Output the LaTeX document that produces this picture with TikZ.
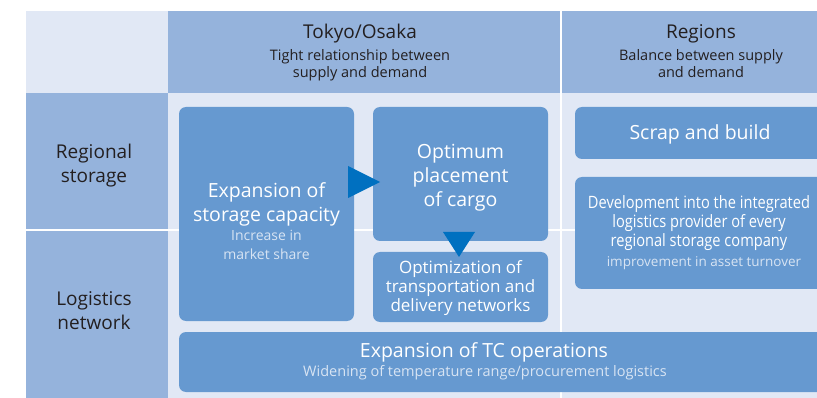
\documentclass[tikz,border=0pt]{standalone}
\usepackage{fontspec}
\setmainfont{Open Sans}
\newfontfamily\narrowfont[FakeStretch=0.86]{Open Sans}
\definecolor{headblue}{HTML}{95B3DC}
\definecolor{paleblue}{HTML}{E1E8F5}
\definecolor{boxblue}{HTML}{6699D0}
\definecolor{arrowblue}{HTML}{0070C0}
\definecolor{inktext}{HTML}{231F20}
\definecolor{softwhite}{HTML}{D8E4F3}

% multi-line text nodes sit on the baseline of their last line
\tikzset{
  panel/.style={fill=boxblue, draw=none, rounded corners=7pt, inner sep=0pt},
  headtitle/.style={anchor=base, text=inktext, inner sep=0pt, font=\fontsize{19}{24}\selectfont},
  headsub/.style={anchor=base, text=inktext, inner sep=0pt, align=center, font=\fontsize{14.5}{17.5}\selectfont},
  rowlabel/.style={anchor=base, text=inktext, inner sep=0pt, align=center, font=\fontsize{19}{24.5}\selectfont},
  boxtitle/.style={anchor=base, text=white, inner sep=0pt, align=center, font=\fontsize{19.5}{24}\selectfont},
  boxsub/.style={anchor=base, text=softwhite, inner sep=0pt, align=center, font=\fontsize{14}{19}\selectfont},
  pointer/.style={fill=arrowblue, draw=none}
}

\begin{document}
\begin{tikzpicture}[x=1pt, y=-1pt]
\useasboundingbox (0,0) rectangle (817,398);
\clip (0,0) rectangle (817,398);

% table background cells
\fill[paleblue] (26,11) rectangle (168,93);
\fill[headblue] (168,11) rectangle (817,93);
\fill[headblue] (26,93) rectangle (168,398);
\fill[paleblue] (168,93) rectangle (817,398);
% white grid lines
\fill[white] (560,11) rectangle (562,398);
\fill[white] (26,229) rectangle (817,231);

% column headers
\node[headtitle] (tokyo) at (360,39) {Tokyo/Osaka};
\node[headsub] (tokyosub) at (360,78) {Tight relationship between\\supply and demand};
\node[headtitle] (regions) at (701,39) {Regions};
\node[headsub] (regionssub) at (701,78) {Balance between supply\\and demand};

% row labels
\node[rowlabel] (storage) at (94,183) {Regional\\storage};
\node[rowlabel] (network) at (94,330) {Logistics\\network};

% boxes
\node[panel, minimum width=175pt, minimum height=214pt] (exp) at (266.5,214) {};
\node[panel, minimum width=175pt, minimum height=134pt] (opt) at (460.5,174) {};
\node[panel, minimum width=175pt, minimum height=70pt] (net) at (460.5,287) {};
\node[panel, minimum width=255pt, minimum height=52pt] (scrap) at (702.5,133) {};
\node[panel, minimum width=255pt, minimum height=112pt] (dev) at (702.5,233) {};
\node[panel, minimum width=651pt, minimum height=60pt] (tc) at (504.5,362) {};

% box texts
\node[boxtitle] (exptext) at (266.5,222) {Expansion of\\storage capacity};
\node[boxsub] (expsub) at (266.5,260) {Increase in\\market share};
\node[boxtitle] (opttext) at (460.5,207) {Optimum\\placement\\of cargo};
\node[boxtitle, font=\fontsize{17}{18.5}\selectfont] (nettext) at (460.5,311)
  {Optimization of\\transportation and\\delivery networks};
\node[boxtitle] (scraptext) at (700,140) {Scrap and build};
\node[boxtitle, font=\narrowfont\fontsize{17}{19}\selectfont] (devtext) at (699,247)
  {Development into the integrated\\logistics provider of every\\regional storage company};
\node[boxsub, font=\fontsize{13.5}{16}\selectfont] (devsub) at (704,267) {improvement in asset turnover};
\node[boxtitle] (tctext) at (484,357) {Expansion of TC operations};
\node[boxsub, font=\fontsize{14.5}{16}\selectfont] (tcsub) at (485,376) {Widening of temperature range/procurement logistics};

% flow pointers between boxes
\fill[pointer] (348,166) -- (380,182) -- (348,198) -- cycle;
\fill[pointer] (443,232) -- (475,232) -- (459,257) -- cycle;
\end{tikzpicture}
\end{document}
